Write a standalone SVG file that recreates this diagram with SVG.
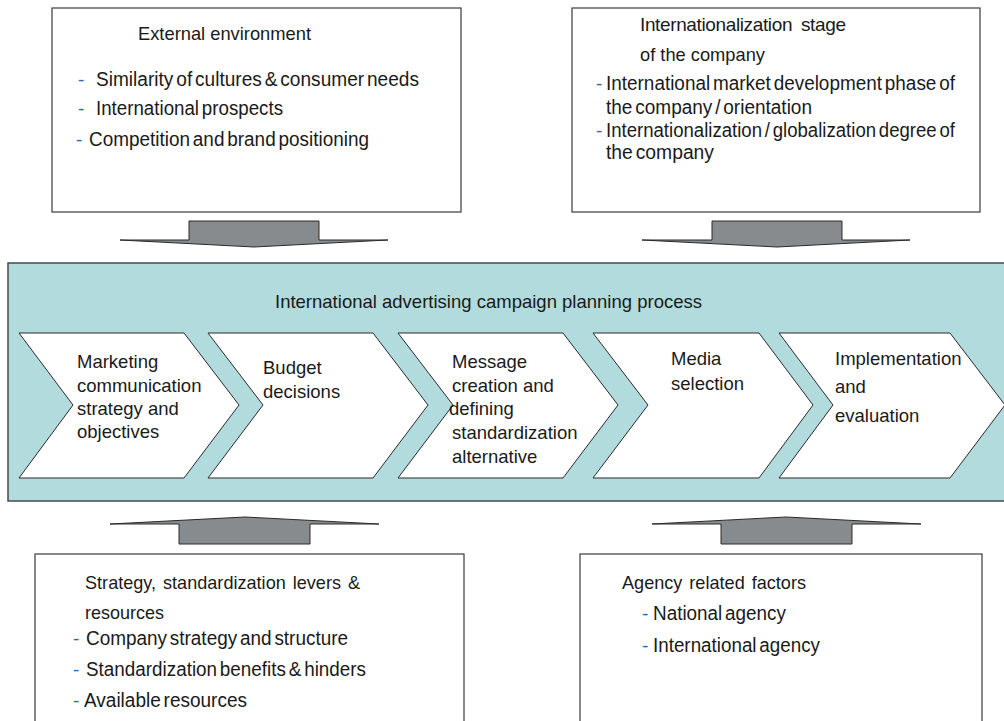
<svg xmlns="http://www.w3.org/2000/svg" width="1004" height="721" viewBox="0 0 1004 721">
  <style>
    .box { fill: #ffffff; stroke: #3a3a3a; stroke-width: 1.2; }
    .band { fill: #b1dbdc; stroke: #4a4a4a; stroke-width: 1.5; }
    .chev { fill: #ffffff; stroke: #2a2a2a; stroke-width: 1; stroke-linejoin: miter; }
    .arrow { fill: #878b8d; stroke: #2a2a2a; stroke-width: 1; stroke-linejoin: miter; }
    text { font-family: "Liberation Sans", Arial, sans-serif; fill: #1a1a1a; }
    .t19 { font-size: 19.5px; word-spacing: -2.5px; }
    .head { font-size: 19px; word-spacing: 0; }
    .t18 { font-size: 18.5px; }
    .dash { fill: #2e68b0; font-size: 19px; }
  </style>

  <!-- outside influences -->
  <g id="external-environment">
    <rect class="box" x="52" y="8" width="409" height="204"/>
    <text class="head" x="138" y="40" textLength="173" lengthAdjust="spacingAndGlyphs">External environment</text>
    <text class="dash" x="78" y="86">-</text>
    <text class="t19" x="96" y="86" textLength="323" lengthAdjust="spacingAndGlyphs">Similarity of cultures &amp; consumer needs</text>
    <text class="dash" x="78" y="115">-</text>
    <text class="t19" x="96" y="115" textLength="187" lengthAdjust="spacingAndGlyphs">International prospects</text>
    <text class="dash" x="76" y="146">-</text>
    <text class="t19" x="89" y="146" textLength="280" lengthAdjust="spacingAndGlyphs">Competition and brand positioning</text>
  </g>

  <g id="internationalization-stage">
    <rect class="box" x="572" y="8" width="408" height="204"/>
    <text class="head" x="640" y="31" textLength="206" lengthAdjust="spacing" style="word-spacing:4px">Internationalization stage</text>
    <text class="head" x="640" y="61" textLength="125" lengthAdjust="spacingAndGlyphs">of the company</text>
    <text class="dash" x="596" y="90">-</text>
    <text class="t19" x="606" y="90" textLength="349" lengthAdjust="spacingAndGlyphs">International market development phase of</text>
    <text class="t19" x="606" y="114" textLength="206" lengthAdjust="spacingAndGlyphs">the company / orientation</text>
    <text class="dash" x="596" y="137">-</text>
    <text class="t19" x="606" y="137" textLength="349" lengthAdjust="spacingAndGlyphs">Internationalization / globalization degree of</text>
    <text class="t19" x="606" y="159" textLength="108" lengthAdjust="spacingAndGlyphs">the company</text>
  </g>

  <g id="strategy-levers">
    <rect class="box" x="35" y="554" width="429" height="190"/>
    <text class="head" x="85" y="589" textLength="275" lengthAdjust="spacingAndGlyphs" style="word-spacing:2px">Strategy, standardization levers &amp;</text>
    <text class="head" x="85" y="619" textLength="79" lengthAdjust="spacingAndGlyphs">resources</text>
    <text class="dash" x="73" y="645">-</text>
    <text class="t19" x="86" y="645" textLength="262" lengthAdjust="spacingAndGlyphs">Company strategy and structure</text>
    <text class="dash" x="73" y="676">-</text>
    <text class="t19" x="86" y="676" textLength="280" lengthAdjust="spacingAndGlyphs">Standardization benefits &amp; hinders</text>
    <text class="dash" x="73" y="707">-</text>
    <text class="t19" x="84" y="707" textLength="163" lengthAdjust="spacingAndGlyphs">Available resources</text>
  </g>

  <g id="agency-factors">
    <rect class="box" x="580" y="554" width="402" height="190"/>
    <text class="head" x="622" y="589" textLength="184" lengthAdjust="spacingAndGlyphs" style="word-spacing:2px">Agency related factors</text>
    <text class="dash" x="642" y="620">-</text>
    <text class="t19" x="653" y="620" textLength="133" lengthAdjust="spacingAndGlyphs">National agency</text>
    <text class="dash" x="642" y="652">-</text>
    <text class="t19" x="653" y="652" textLength="167" lengthAdjust="spacingAndGlyphs">International agency</text>
  </g>

  <!-- planning process band with its five steps -->
  <g id="planning-process">
    <rect class="band" x="8" y="263" width="1000" height="238"/>
    <text class="t18" x="275" y="308" textLength="427" lengthAdjust="spacing">International advertising campaign planning process</text>
  </g>

  <g id="step-marketing">
    <polygon class="chev" points="19,333 184,333 239,405 184,478 19,478 73,405"/>
    <text class="t18" x="77" y="368">Marketing</text>
    <text class="t18" x="77" y="391.5">communication</text>
    <text class="t18" x="77" y="415">strategy and</text>
    <text class="t18" x="77" y="438">objectives</text>
  </g>

  <g id="step-budget">
    <polygon class="chev" points="208,333 373,333 428,405 373,478 208,478 263,405"/>
    <text class="t18" x="263" y="374">Budget</text>
    <text class="t18" x="263" y="397.5">decisions</text>
  </g>

  <g id="step-message">
    <polygon class="chev" points="398,333 563,333 618,405 563,478 398,478 453,405"/>
    <text class="t18" x="452" y="367.5">Message</text>
    <text class="t18" x="452" y="392">creation and</text>
    <text class="t18" x="449" y="415">defining</text>
    <text class="t18" x="452" y="438.5">standardization</text>
    <text class="t18" x="452" y="462.5">alternative</text>
  </g>

  <g id="step-media">
    <polygon class="chev" points="593,333 759,333 813,405 759,478 593,478 648,405"/>
    <text class="t18" x="671" y="365">Media</text>
    <text class="t18" x="671" y="390">selection</text>
  </g>

  <g id="step-implementation">
    <polygon class="chev" points="779,333 950,333 1005,405 950,478 779,478 833,405"/>
    <text class="t18" x="835" y="365">Implementation</text>
    <text class="t18" x="835" y="393">and</text>
    <text class="t18" x="835" y="421.5">evaluation</text>
  </g>

  <!-- block arrows feeding the band -->
  <g id="connectors">
    <polygon class="arrow" points="189,221 319,221 319,240 388,240 254,247 120,240 189,240"/>
    <polygon class="arrow" points="712,221 842,221 842,240 910,240 777,247 642,240 712,240"/>
    <polygon class="arrow" points="179,544 310,544 310,524 379,524 245,517 110,524 179,524"/>
    <polygon class="arrow" points="721,544 852,544 852,524 921,524 786,517 652,524 721,524"/>
  </g>
</svg>
